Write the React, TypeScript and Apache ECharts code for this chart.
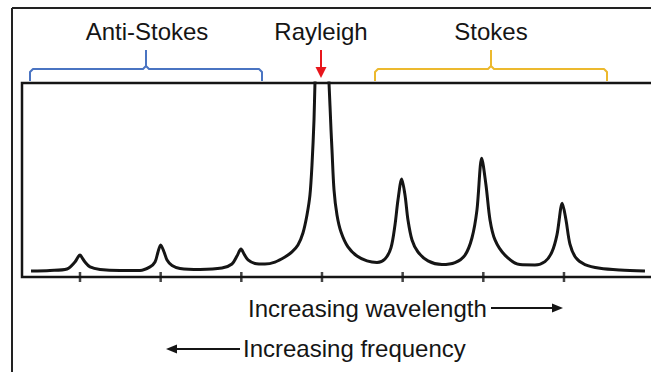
import React, { useEffect, useRef } from "react";
import * as echarts from "echarts";

// Raman shift (in peak-spacing units, Rayleigh line at 0) and relative intensity (0-100 = plot height)
const shift = [
  -3.607, -3.372, -3.161, -3.063, -3.025, -3.0, -2.975, -2.938, -2.876, -2.752, -2.504, -2.256,
  -2.132, -2.07, -2.033, -2.0, -1.958, -1.921, -1.859, -1.76, -1.512, -1.24, -1.116, -1.054,
  -1.004, -0.967, -0.917, -0.831, -0.707, -0.583, -0.459, -0.372, -0.298, -0.236, -0.186, -0.149,
  -0.124, -0.099, -0.087, -0.06, -0.035, -0.006, 0.025, 0.05, 0.075, 0.087, 0.112, 0.124, 0.149,
  0.186, 0.236, 0.322, 0.434, 0.558, 0.682, 0.781, 0.855, 0.905, 0.942, 0.988, 1.029, 1.066,
  1.116, 1.19, 1.314, 1.488, 1.649, 1.773, 1.859, 1.921, 1.98, 2.033, 2.083, 2.145, 2.268, 2.454,
  2.64, 2.764, 2.851, 2.913, 2.979, 3.025, 3.074, 3.149, 3.26, 3.446, 3.694, 4.004,
];
const intensity = [
  3.1, 3.35, 4.1, 7.7, 10.3, 11.3, 10.0, 7.7, 5.2, 3.9, 3.35, 3.35,
  5.2, 7.7, 12.9, 16.5, 12.9, 8.8, 5.9, 4.4, 3.9, 4.6, 6.7, 10.8,
  14.4, 11.9, 8.8, 7.0, 6.7, 7.7, 10.3, 12.9, 16.5, 22.7, 32.0, 42.3,
  57.7, 80.9, 100, 130, 160, 175, 160, 130, 108, 100, 75.8, 65.5, 44.9,
  32.0, 23.2, 15.5, 10.8, 8.3, 7.5, 9.3, 15.0, 26.8, 39.7, 50.5, 42.3, 29.4,
  19.1, 12.9, 8.3, 6.4, 7.4, 11.3, 20.1, 34.5, 61.2, 47.4, 29.4, 19.1, 11.3, 6.4,
  6.2, 7.9, 12.9, 21.7, 38.0, 29.4, 17.0, 9.8, 6.4, 4.5, 3.6, 3.1,
];
const tickShifts = [-3, -2, -1, 0, 1, 2, 3];
const bandLabels = ["Anti-Stokes", "Rayleigh", "Stokes"];
const axisNotes = ["Increasing wavelength", "Increasing frequency"];

export default function App() {
  const ref = useRef<HTMLDivElement>(null);
  useEffect(() => {
    if (!ref.current) return;
    const chart = echarts.init(ref.current, null, { renderer: "svg" });
    const font = "'Liberation Sans', Arial, Helvetica, sans-serif";
    const black = "#151515";
    const blue = "#4a74c2";
    const gold = "#ecb92e";
    const red = "#e8161c";
    const textStyle = (t: string, x: number, y: number, align = "center") => ({
      type: "text",
      x,
      y,
      style: {
        text: t,
        fill: black,
        font: `24px ${font}`,
        fontSize: 24,
        fontFamily: font,
        align,
        verticalAlign: "middle",
      },
    });
    const line = (x1: number, y1: number, x2: number, y2: number, color: string, w = 2) => ({
      type: "line",
      shape: { x1, y1, x2, y2 },
      style: { stroke: color, lineWidth: w },
    });
    const poly = (pts: number[][], color: string) => ({
      type: "polyline",
      shape: { points: pts },
      style: { stroke: color, lineWidth: 2, fill: null, lineJoin: "round" },
    });
    const tri = (pts: number[][], color: string) => ({
      type: "polygon",
      shape: { points: pts },
      style: { fill: color, stroke: null },
    });
    const bracket = (l: number, r: number, c: number, color: string) => [
      poly([[l, 81], [l, 72], [l + 3, 69], [c - 3, 69], [c, 66], [c, 50]], color),
      poly([[c, 66], [c + 3, 69], [r - 3, 69], [r, 72], [r, 81]], color),
    ];

    chart.setOption({
      animation: false,
      grid: {
        left: 22,
        top: 83,
        right: 3,
        bottom: 372 - 277,
        show: true,
        borderColor: black,
        borderWidth: 2.5,
        backgroundColor: "transparent",
      },
      xAxis: {
        type: "value",
        min: -3.719,
        max: 4.178,
        axisLine: { show: false },
        axisTick: { show: false },
        axisLabel: { show: false },
        splitLine: { show: false },
      },
      yAxis: {
        type: "value",
        min: 0,
        max: 100,
        show: false,
        splitLine: { show: false },
      },
      series: [
        {
          type: "line",
          data: shift.map((s, i) => [s, intensity[i]]),
          showSymbol: false,
          smooth: 0.3,
          clip: true,
          lineStyle: { color: black, width: 3 },
          z: 3,
        },
        {
          // crossing tick marks on the bottom axis
          type: "scatter",
          data: tickShifts.map((t) => [t, 0]),
          symbol: "rect",
          symbolSize: [2.5, 10],
          clip: false,
          itemStyle: { color: black },
          silent: true,
          z: 4,
        },
      ],
      graphic: [
        line(12, 8, 670, 8, "#222", 2),
        line(12, 8, 12, 380, "#222", 2),
        ...bracket(30, 262, 146, blue),
        ...bracket(375, 607, 491, gold),
        line(321, 50, 321, 68, red, 2),
        tri([[315.5, 67], [326.5, 67], [321, 78]], red),
        textStyle(bandLabels[0], 147, 31),
        textStyle(bandLabels[1], 321, 31),
        textStyle(bandLabels[2], 491, 31),
        textStyle(axisNotes[0], 248, 308, "left"),
        textStyle(axisNotes[1], 243, 348, "left"),
        line(491, 308, 553, 308, black, 2),
        tri([[552, 303.5], [563, 308], [552, 312.5]], black),
        line(176, 349, 240, 349, black, 2),
        tri([[177, 344.5], [166, 349], [177, 353.5]], black),
      ],
    });
    return () => chart.dispose();
  }, []);
  return (
    <div
      style={{
        position: "fixed",
        left: 0,
        top: 0,
        width: 651,
        height: 372,
        overflow: "hidden",
        background: "#fff",
      }}
    >
      <div ref={ref} style={{ width: 662, height: 372 }} />
    </div>
  );
}
